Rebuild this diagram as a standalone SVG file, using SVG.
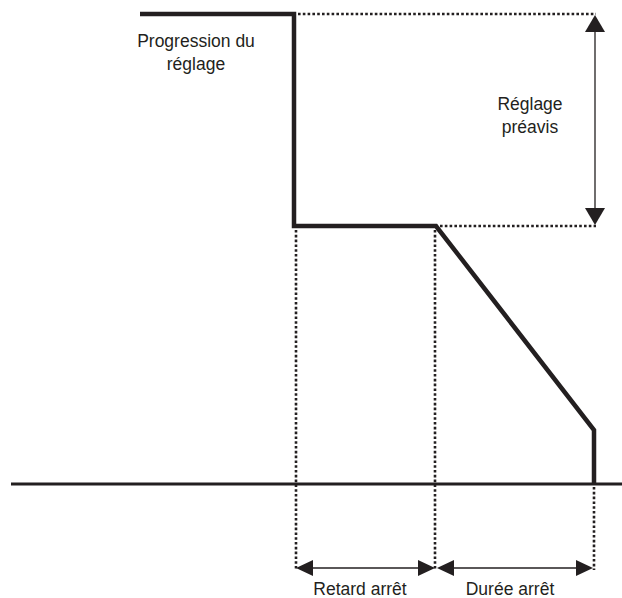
<svg xmlns="http://www.w3.org/2000/svg" width="622" height="598" viewBox="0 0 622 598">
<style>
.thick{fill:none;stroke:#231f20;stroke-width:4.5;stroke-linejoin:miter;stroke-linecap:butt}
.base{fill:none;stroke:#231f20;stroke-width:3}
.dot{fill:none;stroke:#231f20;stroke-width:2.6;stroke-dasharray:2.6 2.2}
.dim{fill:none;stroke:#231f20;stroke-width:1.3}
.head{fill:#231f20}
text{font-family:"Liberation Sans",Arial,sans-serif;font-size:17.5px;fill:#231f20;text-anchor:middle}
</style>
<rect width="622" height="598" fill="#fff"/>
<g id="connectors">
<line class="base" x1="11" y1="484" x2="622" y2="484"/>
<path class="thick" d="M140 14 H294 V226 H436 L594 430 V484"/>
<line class="dot" x1="298" y1="14" x2="596" y2="14"/>
<line class="dot" x1="440" y1="226" x2="596" y2="226"/>
<line class="dot" x1="296" y1="230" x2="296" y2="570"/>
<line class="dot" x1="435" y1="230" x2="435" y2="570"/>
<line class="dot" x1="594" y1="487" x2="594" y2="570"/>
<line class="dim" x1="595" y1="28" x2="595" y2="212"/>
<polygon class="head" points="595,15 585,32 605,32"/>
<polygon class="head" points="595,225 585,208 605,208"/>
<line class="dim" x1="305" y1="568" x2="428" y2="568"/>
<polygon class="head" points="296,568 313,560 313,576"/>
<polygon class="head" points="435,568 418,560 418,576"/>
<line class="dim" x1="445" y1="568" x2="584" y2="568"/>
<polygon class="head" points="437,568 454,560 454,576"/>
<polygon class="head" points="593,568 576,560 576,576"/>
</g>
<g id="label-progression">
<text x="196" y="47">Progression du</text>
<text x="196" y="70">réglage</text>
</g>
<g id="label-preavis">
<text x="530" y="110">Réglage</text>
<text x="530" y="133">préavis</text>
</g>
<g id="label-retard">
<text x="360" y="595">Retard arrêt</text>
</g>
<g id="label-duree">
<text x="510" y="595">Durée arrêt</text>
</g>
</svg>
